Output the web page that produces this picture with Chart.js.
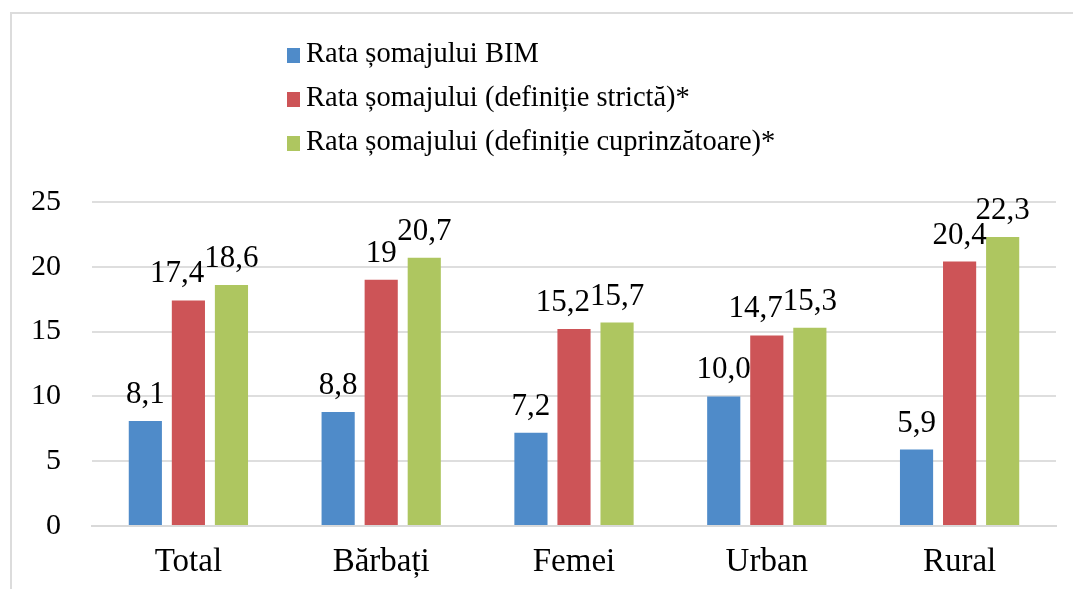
<!DOCTYPE html>
<html>
<head>
<meta charset="utf-8">
<script src="https://cdn.jsdelivr.net/npm/chart.js@4.4.1/dist/chart.umd.min.js"></script>
<style>
  html, body { margin: 0; padding: 0; background: #fff; overflow: hidden; }
  #wrap { position: relative; width: 1073px; height: 589px; }
  #frame { position: absolute; left: 10px; top: 12px; width: 1200px; height: 700px;
           border: 2px solid #dcdcdc; box-sizing: border-box; }
  #legend { position: absolute; left: 287px; top: 31px; font-family: "Liberation Serif", "Times New Roman", serif;
            font-size: 28.5px; color: #000; line-height: 44px; }
  #legend div { white-space: nowrap; }
  #legend span.sw { display: inline-block; width: 13px; height: 15px; margin-right: 6px; vertical-align: -1px; }
  canvas { position: absolute; left: 0; top: 0; }
</style>
</head>
<body>
<div id="wrap">
  <div id="frame"></div>
  <canvas id="chart" width="1073" height="589"></canvas>
  <div id="legend"></div>
</div>
<script>
// Categorii si valori (%)
const categories = ['Total', 'Bărbați', 'Femei', 'Urban', 'Rural'];
const seriesNames = [
    'Rata șomajului BIM',
    'Rata șomajului (definiție strictă)*',
    'Rata șomajului (definiție cuprinzătoare)*'
];
const ratesBIM = [8.1, 8.8, 7.2, 10.0, 5.9];
const ratesStrict = [17.4, 19, 15.2, 14.7, 20.4];
const ratesBroad = [18.6, 20.7, 15.7, 15.3, 22.3];
const labelsBIM = ['8,1', '8,8', '7,2', '10,0', '5,9'];
const labelsStrict = ['17,4', '19', '15,2', '14,7', '20,4'];
const labelsBroad = ['18,6', '20,7', '15,7', '15,3', '22,3'];
const yTicks = [0, 5, 10, 15, 20, 25];

const colors = ['#4f8bc9', '#cd5457', '#aec660'];
const fontFamily = '"Liberation Serif", "Times New Roman", serif';

// Legenda verticala, ca in original
const legendEl = document.getElementById('legend');
seriesNames.forEach((name, i) => {
    const row = document.createElement('div');
    row.innerHTML = `<span class="sw" style="background:${colors[i]}"></span>${name}`;
    legendEl.appendChild(row);
});

// Etichete de valori deasupra barelor; daca se suprapun, eticheta din stanga se muta la stanga
const valueLabels = {
    id: 'valueLabels',
    afterDatasetsDraw(chart) {
        const ctx = chart.ctx;
        const size = 31;
        ctx.save();
        ctx.font = `${size}px ${fontFamily}`;
        ctx.fillStyle = '#000';
        ctx.textAlign = 'center';
        ctx.textBaseline = 'alphabetic';
        const n = chart.data.labels.length;
        const dsCount = chart.data.datasets.length;
        for (let i = 0; i < n; i++) {
            let next = null;
            for (let di = dsCount - 1; di >= 0; di--) {
                const ds = chart.data.datasets[di];
                const bar = chart.getDatasetMeta(di).data[i];
                const text = ds.valueText[i];
                const w = ctx.measureText(text).width;
                let x = bar.x;
                const base = bar.y - 18;
                const box = { l: x - w / 2, r: x + w / 2, t: base - size * 0.68, b: base };
                if (next && box.r > next.l && box.b > next.t && box.t < next.b) {
                    const shift = box.r - next.l;
                    x -= shift;
                    box.l -= shift;
                    box.r -= shift;
                }
                ctx.fillText(text, x, base);
                next = box;
            }
        }
        ctx.restore();
    }
};

new Chart(document.getElementById('chart'), {
    type: 'bar',
    data: {
        labels: categories,
        datasets: [
            { label: seriesNames[0], data: ratesBIM, valueText: labelsBIM, backgroundColor: colors[0] },
            { label: seriesNames[1], data: ratesStrict, valueText: labelsStrict, backgroundColor: colors[1] },
            { label: seriesNames[2], data: ratesBroad, valueText: labelsBroad, backgroundColor: colors[2] }
        ]
    },
    options: {
        responsive: false,
        animation: false,
        categoryPercentage: 0.67,
        barPercentage: 0.77,
        layout: { padding: { left: 0, right: 17, top: 202, bottom: 0 } },
        plugins: {
            legend: { display: false },
            tooltip: { enabled: false }
        },
        scales: {
            x: {
                grid: { display: false, drawTicks: false },
                border: { color: '#d9d9d9', width: 2 },
                ticks: { color: '#000', font: { family: fontFamily, size: 33 }, padding: 17 },
                afterFit: scale => { scale.height = 63; }
            },
            y: {
                min: 0,
                max: 25,
                afterBuildTicks: axis => { axis.ticks = yTicks.map(v => ({ value: v })); },
                grid: { color: '#dedede', lineWidth: 2, drawTicks: false },
                border: { display: false },
                ticks: { color: '#000', font: { family: fontFamily, size: 30 }, padding: 31 }
            }
        }
    },
    plugins: [valueLabels]
});
</script>
</body>
</html>
